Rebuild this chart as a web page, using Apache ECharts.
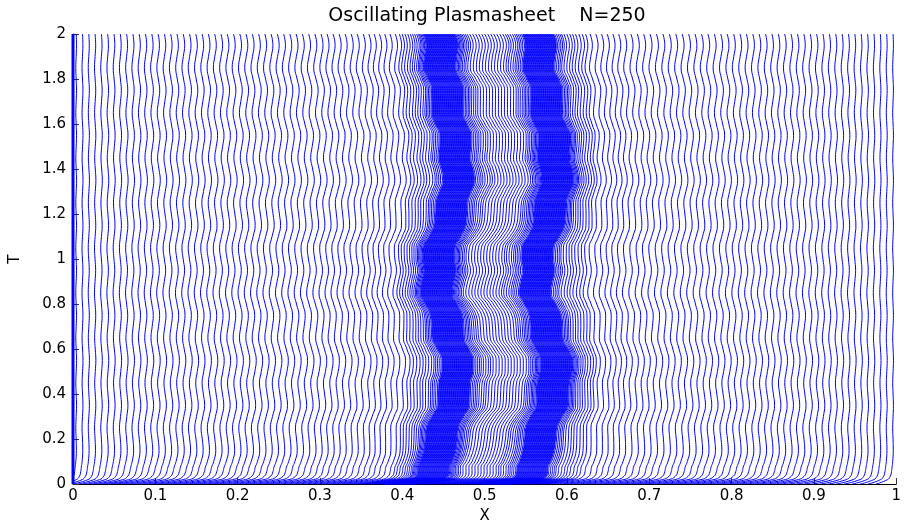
<!DOCTYPE html>
<html><head><meta charset="utf-8">
<script src="https://cdn.jsdelivr.net/npm/echarts@6/dist/echarts.min.js"></script>
<style>html,body{margin:0;padding:0;background:#fff}#c{width:904px;height:529px}</style>
</head><body><div id="c"></div>
<script>
// Sample times (T axis)
const times = [0, 0.02, 0.035, 0.055, 0.075, 0.1, 0.15, 0.2, 0.25, 0.3, 0.35, 0.4, 0.45, 0.5, 0.55, 0.6, 0.65, 0.7, 0.75, 0.8, 0.85, 0.9, 0.95, 1.0,
  1.05, 1.1, 1.15, 1.2, 1.25, 1.3, 1.35, 1.4, 1.45, 1.5, 1.55, 1.6, 1.65, 1.7, 1.75, 1.8, 1.85, 1.9, 1.95, 2.0];
// Sheet displacement (X units), one per sample time
const sheetShift = [-0.013, -0.013, -0.013, -0.014, -0.015, -0.015, -0.014, -0.009, -0.004, 0, 0.005, 0.009, 0.013, 0.014, 0.011, 0.008, 0.004, 0, -0.005,
  -0.009, -0.013, -0.014, -0.014, -0.013, -0.009, -0.004, 0, 0.005, 0.009, 0.011, 0.013, 0.014, 0.013, 0.011, 0.008, 0.005, 0.003, 0,
  -0.003, -0.005, -0.008, -0.010, -0.011, -0.012];
// Small fast ripple seen on every trajectory (relative phase), one per sample time
const ripple = [0, 0, 0, -0.5, -0.8, 0, 1, 0, -1, 0, 1, 0, -1, 0, 1, 0, -1, 0, 1, 0, -1, 0, 1, 0, -1, 0, 1, 0, -1, 0, 1, 0, -1, 0, 1, 0, -1, 0, 1, 0, -1, 0, 1, 0];
// Start-up transient (X units), one per sample time
const transient = [-0.05, -0.016, -0.008, -0.004, -0.002, -0.001, -0.0004, 0, 0, 0, 0, 0, 0, 0, 0, 0, 0, 0, 0, 0, 0, 0, 0, 0, 0, 0, 0, 0, 0, 0, 0, 0, 0, 0, 0, 0, 0, 0, 0, 0, 0, 0, 0, 0];
// Particle distribution: bins of X and number of trajectories in each
const binEdges = [0, 0.1, 0.2, 0.3, 0.36, 0.40, 0.415, 0.427, 0.436, 0.474, 0.483, 0.493, 0.537, 0.547, 0.556, 0.594, 0.603, 0.615, 0.63, 0.67, 0.70, 0.80, 0.90, 1.0];
const binCounts = [13, 13, 13, 8, 6, 4, 4, 5, 46, 5, 4, 12, 4, 5, 46, 5, 4, 4, 6, 4, 13, 13, 13];
// How strongly each position follows the sheet / ripples (read across X)
const profileX = [0, 0.1, 0.2, 0.3, 0.36, 0.40, 0.42, 0.436, 0.474, 0.49, 0.54, 0.556, 0.594, 0.61, 0.63, 0.67, 0.7, 0.8, 0.9, 1];
const coupling = [0, 0.04, 0.1, 0.2, 0.32, 0.45, 0.6, 0.85, 0.85, 1.1, 1.1, 0.85, 0.85, 0.6, 0.45, 0.32, 0.25, 0.12, 0.05, 0];
const rippleAmp = [0.0004, 0.0016, 0.002, 0.0022, 0.0023, 0.0024, 0.0025, 0.0028, 0.0028, 0.0034, 0.0034, 0.0028, 0.0028, 0.0025, 0.0024, 0.0023, 0.0022, 0.002, 0.0016, 0.0004];
const transientScale = [0.4, 0.9, 1, 1, 1, 1, 1, 1, 1, 1, 1, 1, 1, 1, 1, 1, 1, 1, 0.9, 0.4];
const xTicks = [0, 0.1, 0.2, 0.3, 0.4, 0.5, 0.6, 0.7, 0.8, 0.9, 1];
const yTicks = [0, 0.2, 0.4, 0.6, 0.8, 1, 1.2, 1.4, 1.6, 1.8, 2];
const titleText = 'Oscillating Plasmasheet    N=250';

function profileAt(arr, x) {
  for (let i = 0; i < profileX.length - 1; i++) {
    if (x <= profileX[i + 1]) {
      const f = (x - profileX[i]) / (profileX[i + 1] - profileX[i]);
      return arr[i] + f * (arr[i + 1] - arr[i]);
    }
  }
  return arr[arr.length - 1];
}

const series = [];
for (let b = 0; b < binCounts.length; b++) {
  const lo = binEdges[b], hi = binEdges[b + 1], n = binCounts[b];
  for (let k = 0; k < n; k++) {
    const x0 = lo + (k + 0.5) * (hi - lo) / n;
    const c = profileAt(coupling, x0), r = profileAt(rippleAmp, x0), s = profileAt(transientScale, x0);
    const data = times.map((t, j) => [x0 + c * sheetShift[j] + r * ripple[j] + s * transient[j], t]);
    series.push({type: 'line', data, smooth: 0.5, symbol: 'none', silent: true, clip: true,
      lineStyle: {color: '#0000ff', width: 1}});
  }
}
// boundary at X = 0 (left edge of the domain)
series.push({type: 'line', data: [[xTicks[0], yTicks[0]], [xTicks[0], yTicks[yTicks.length - 1]]], symbol: 'none', silent: true,
  lineStyle: {color: '#0000ff', width: 3}});

const font = 'DejaVu Sans';
const chart = echarts.init(document.getElementById('c'), null, {renderer: 'canvas'});
chart.setOption({
  animation: false,
  backgroundColor: '#fff',
  title: {text: titleText, left: 482, top: 2, textAlign: 'center',
    textStyle: {fontFamily: font, fontSize: 19, fontWeight: 'normal', color: '#000'}},
  grid: {left: 68, right: 7, top: 34, bottom: 36},
  xAxis: {type: 'value', min: 0, max: 1, interval: 0.1, name: 'X', nameLocation: 'middle', nameGap: 16,
    nameTextStyle: {fontFamily: font, fontSize: 15, color: '#000'},
    axisLine: {show: true, lineStyle: {color: '#000', width: 1}},
    axisTick: {inside: true, length: 6, lineStyle: {color: '#333'}},
    axisLabel: {margin: 5, fontFamily: font, fontSize: 15, color: '#000',
      formatter: v => { const i = xTicks.findIndex(q => Math.abs(q - v) < 1e-9); return i >= 0 ? String(xTicks[i]) : ''; }},
    splitLine: {show: false}},
  yAxis: {type: 'value', min: 0, max: 2, interval: 0.2, name: 'T', nameLocation: 'middle', nameGap: 50, nameRotate: 90,
    nameTextStyle: {fontFamily: font, fontSize: 15, color: '#000'},
    axisLine: {show: true, lineStyle: {color: '#000', width: 1}},
    axisTick: {inside: true, length: 6, lineStyle: {color: '#333'}},
    axisLabel: {margin: 7, fontFamily: font, fontSize: 15, color: '#000',
      formatter: v => { const i = yTicks.findIndex(q => Math.abs(q - v) < 1e-9); return i >= 0 ? String(yTicks[i]) : ''; }},
    splitLine: {show: false}},
  series
});
</script></body></html>
